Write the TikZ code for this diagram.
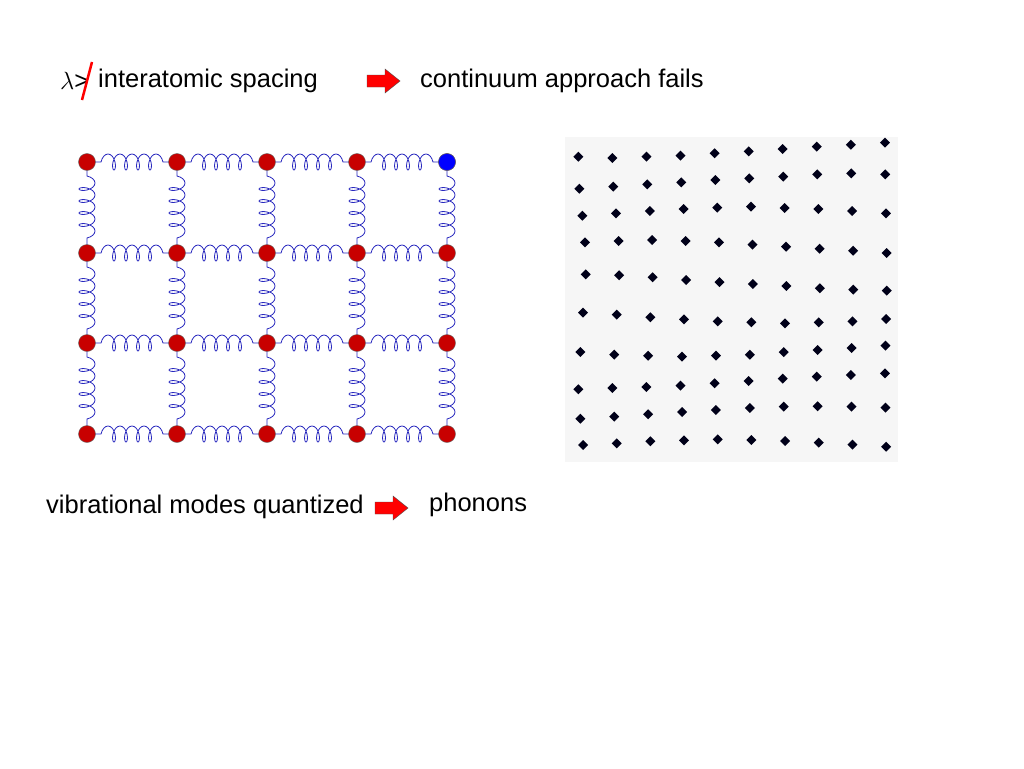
\documentclass[tikz,border=0pt]{standalone}
\usepackage{fontspec}
\setmainfont{Liberation Sans}
\usetikzlibrary{positioning,decorations.pathmorphing}
\definecolor{springblue}{RGB}{40,40,190}
\definecolor{atomred}{RGB}{200,0,0}
\definecolor{panelgray}{RGB}{246,246,246}
\tikzset{
  atom/.style={circle,fill=atomred,draw=black!60,inner sep=0pt,minimum size=17pt},
  spring/.style={springblue,line width=0.8pt,decorate,decoration={coil,aspect=0.5,segment length=12pt,amplitude=8pt,pre length=14pt,post length=14pt}},
  label/.style={font=\fontsize{25.5}{30}\selectfont,inner sep=0pt,anchor=west},
  bigarrow/.style={fill=red,draw=black!70,thin}
}
\newcommand{\blockarrow}[3]{% x, y, name
  \draw[bigarrow] (#1,#2-6) -- (#1+18,#2-6) -- (#1+18,#2-12) -- (#1+33,#2)
    -- (#1+18,#2+12) -- (#1+18,#2+6) -- (#1,#2+6) -- cycle;
  \coordinate (#3) at (#1+16,#2);
}
\begin{document}
\begin{tikzpicture}[x=1pt,y=-1pt]
\useasboundingbox (0,0) rectangle (1024,768);
% top line
\node[label] (lam) at (60,81) {$\lambda$>};
\draw[red,line width=2.5pt] (92,62) -- (82,100);
\node[label] (spacing) at (98,81) {interatomic spacing};
\blockarrow{367}{81}{arrA}
\node[label] (fails) at (420,81) {continuum approach fails};

% spring lattice
\foreach \i/\x in {0/87,1/177,2/267,3/357,4/447}
  \foreach \j/\y in {0/162,1/253,2/343,3/434}
    \coordinate (p-\i-\j) at (\x,\y);
\foreach \i in {0,...,3}{
  \pgfmathtruncatemacro{\n}{\i+1}
  \foreach \j in {0,...,3}
    \draw[spring] (p-\i-\j) -- (p-\n-\j);
}
\foreach \i in {0,...,4}
  \foreach \j in {0,1,2}{
    \pgfmathtruncatemacro{\m}{\j+1}
    \draw[spring] (p-\i-\j) -- (p-\i-\m);
  }
\foreach \i in {0,...,4}
  \foreach \j in {0,...,3}
    \node[atom] (a-\i-\j) at (p-\i-\j) {};
\node[atom,fill=blue] (a-4-0) at (p-4-0) {};

% displaced atoms
\fill[panelgray] (565,137) rectangle (898,462);
\foreach \s/\ys in {0/{80,84,80,77,70,64,57,50,44,38},
                    3/{176,170,163,157,150,145,140,133,130,133},
                    12/{257,250,243,237,233,230,234,237,243,250},
                    20/{337,333,330,333,337,344,350,356,362,369},
                    22/{433,436,442,450,456,462,468,475,479,482},
                    14/{548,554,562,568,574,577,580,577,574,567},
                    6/{666,674,677,680,677,674,666,660,654,647},
                    0/{778,774,771,767,760,753,746,740,735,730},
                    6/{866,860,853,846,840,834,830,829,830,833},
                    14/{945,940,934,931,928,930,933,938,944,950}}{
  \foreach \yy [count=\k from 0] in \ys
    \fill[black!90!blue] ({560+(55+102.2*\k+\s*(1-\k/12))/3},{130+\yy/3})
      +(0,-5) -- +(5,0) -- +(0,5) -- +(-5,0) -- cycle;
}

% bottom line
\node[label] (modes) at (46,507) {vibrational modes quantized};
\blockarrow{375}{508}{arrB}
\node[label] (phonons) at (429,505) {phonons};
\end{tikzpicture}
\end{document}
